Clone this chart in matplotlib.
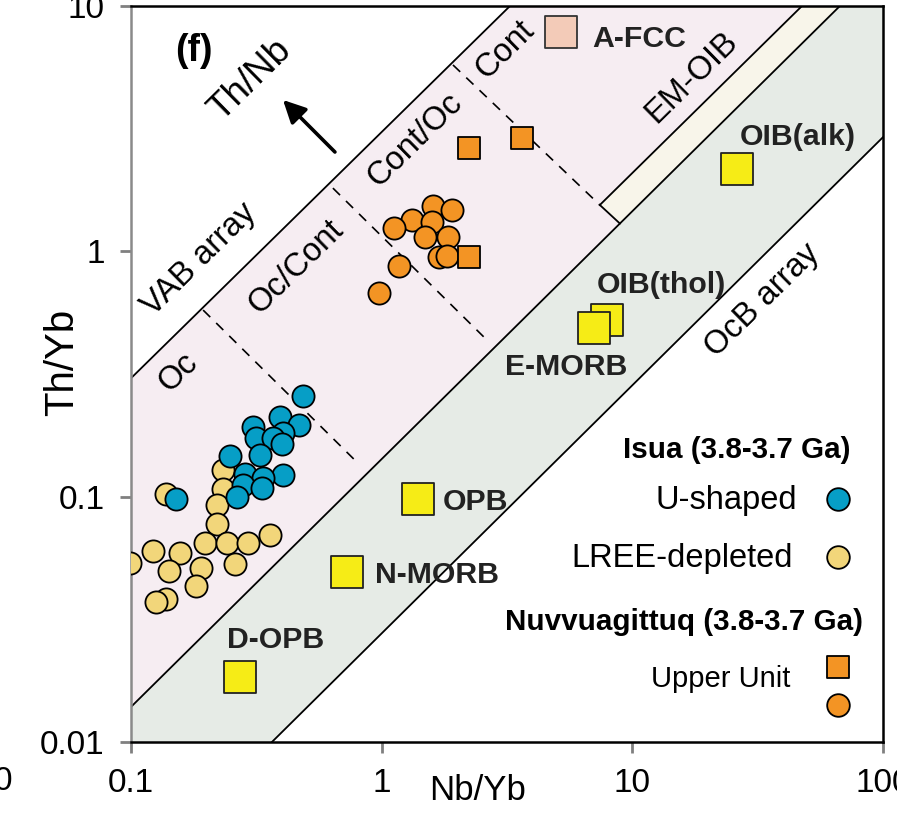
import numpy as np
import matplotlib
matplotlib.use('Agg')
import matplotlib.pyplot as plt

plt.rcParams['font.family'] = ['Liberation Sans', 'DejaVu Sans']

# Isua (3.8-3.7 Ga), U-shaped REE pattern
u_nb = [0.484, 0.393, 0.469, 0.307, 0.405, 0.315, 0.367, 0.399, 0.327,
        0.248, 0.405, 0.285, 0.337, 0.279, 0.332, 0.264, 0.151]
u_th = [0.257, 0.212, 0.196, 0.193, 0.182, 0.173, 0.173, 0.164, 0.148,
        0.146, 0.123, 0.124, 0.119, 0.1115, 0.108, 0.0999, 0.0975]

# Isua, LREE-depleted
l_nb = [0.233, 0.232, 0.221, 0.221, 0.138, 0.197, 0.241, 0.294, 0.358,
        0.122, 0.157, 0.099, 0.142, 0.190, 0.260, 0.182, 0.138, 0.126]
l_th = [0.129, 0.107, 0.0924, 0.0774, 0.1025, 0.0645, 0.0649, 0.0645, 0.0697,
        0.0602, 0.0591, 0.0535, 0.0497, 0.0510, 0.0531, 0.0432, 0.0381, 0.0373]

# Nuvvuagittuq Upper Unit, circles and squares
n_circ_nb = [1.606, 1.902, 1.317, 1.583, 1.120, 1.488, 1.844, 1.698, 1.816, 1.175, 0.978]
n_circ_th = [1.530, 1.474, 1.341, 1.320, 1.241, 1.147, 1.141, 0.951, 0.957, 0.871, 0.674]
n_sq_nb = [2.236, 3.617, 2.236]
n_sq_th = [2.630, 2.888, 0.951]

# reference compositions
ref_names = ['OIB(thol)', 'E-MORB', 'OIB(alk)', 'OPB', 'N-MORB', 'D-OPB']
ref_nb = [7.90, 7.03, 26.2, 1.40, 0.725, 0.272]
ref_th = [0.525, 0.486, 2.165, 0.0975, 0.0494, 0.0184]
afcc_nb, afcc_th = 5.18, 7.86

# field boundaries (Nb/Yb, Th/Yb)
vab_top = ([0.1, 3.25], [0.304, 10])
array_top = ([0.1, 67.3], [0.0139, 10])
emoib_top = ([7.42, 47.5], [1.545, 10])
array_bot = ([0.365, 100], [0.01, 2.92])
emoib_cut_x = 8.92
dividers = [([0.194, 0.804], [0.576, 0.137]),
            ([0.639, 2.63], [1.81, 0.435]),
            ([1.925, 7.42], [5.75, 1.545])]


def on_line(line, x):
    lx, ly = np.log10(line[0]), np.log10(line[1])
    return 10 ** np.interp(np.log10(x), lx, ly)


cut_y = on_line(array_top, emoib_cut_x)

fig = plt.figure(figsize=(8.97, 8.18), dpi=100)
ax = fig.add_axes([131 / 897, 76 / 818, 752 / 897, 736 / 818])
ax.set_xscale('log')
ax.set_yscale('log')
ax.set_xlim(0.1, 100)
ax.set_ylim(0.01, 10)

pink = '#f6edf2'
green = '#e6ebe6'
cream = '#f8f5ea'

# VAB / continental arc field
ax.fill([0.1, vab_top[0][1], emoib_top[0][1], emoib_top[0][0], emoib_cut_x, 0.1],
        [vab_top[1][0], 10, 10, emoib_top[1][0], cut_y, array_top[1][0]],
        color=pink, lw=0, zorder=0)
# EM-OIB strip
ax.fill([emoib_top[0][0], emoib_top[0][1], array_top[0][1], emoib_cut_x],
        [emoib_top[1][0], 10, 10, cut_y], color=cream, lw=0, zorder=0)
# MORB-OIB array
ax.fill([0.1, array_top[0][1], 100, 100, array_bot[0][0], 0.1],
        [array_top[1][0], 10, 10, array_bot[1][1], 0.01, 0.01],
        color=green, lw=0, zorder=0)

for line in (vab_top, array_top, emoib_top, array_bot):
    ax.plot(line[0], line[1], color='black', lw=1.3, zorder=1)
ax.plot([emoib_top[0][0], emoib_cut_x], [emoib_top[1][0], cut_y],
        color='black', lw=1.3, zorder=1)
for dx, dy in dividers:
    ax.plot(dx, dy, color='black', lw=1.2, ls=(0, (6, 5)), zorder=1)

rot = 44.5
field_kw = dict(rotation=rot, rotation_mode='anchor', ha='center', va='center',
                fontsize=23.5, color='black', zorder=2)
ax.text(0.187, 0.922, 'VAB array', **field_kw)
ax.text(0.154, 0.322, 'Oc', **field_kw)
ax.text(0.455, 0.863, 'Oc/Cont', **field_kw)
ax.text(1.358, 2.842, 'Cont/Oc', **field_kw)
ax.text(3.10, 6.62, 'Cont', **field_kw)
ax.text(17.3, 5.13, 'EM-OIB', **field_kw)
ax.text(33.2, 0.633, 'OcB array', **field_kw)
ax.text(0.298, 4.99, 'Th/Nb', **dict(field_kw, fontsize=26.5))
ax.annotate('', xy=(0.404, 4.14), xytext=(0.651, 2.54),
            arrowprops=dict(arrowstyle='-|>', lw=2.6, color='black',
                            mutation_scale=34, shrinkA=0, shrinkB=0))
ax.text(0.084, 0.939, '(f)', transform=ax.transAxes, fontsize=27,
        fontweight='bold', ha='center', va='center')

yellow_sq = '#f6ec16'
ax.scatter(ref_nb, ref_th, s=545, marker='s', c=yellow_sq, edgecolors='#222222',
           linewidths=1.3, zorder=3)
ax.scatter([afcc_nb], [afcc_th], s=553, marker='s', c='#f3cbb8', edgecolors='#333333',
           linewidths=1.3, zorder=3)

lab_kw = dict(fontsize=21.8, fontweight='bold', color='#222222', ha='left',
              va='baseline', zorder=4)
ax.text(6.90, 6.81, 'A-FCC', **lab_kw)
ax.text(26.9, 2.71, 'OIB(alk)', **lab_kw)
ax.text(7.22, 0.676, 'OIB(thol)', **lab_kw)
ax.text(3.10, 0.313, 'E-MORB', **lab_kw)
ax.text(1.756, 0.0882, 'OPB', **lab_kw)
ax.text(0.940, 0.0444, 'N-MORB', **lab_kw)
ax.text(0.2415, 0.0241, 'D-OPB', **lab_kw)

blue = '#069ec6'
sand = '#f2d67a'
orange = '#f39424'
pt_kw = dict(s=255, edgecolors='black', linewidths=1.3, zorder=5)
ax.scatter(l_nb, l_th, c=sand, **pt_kw)
ax.scatter(u_nb, u_th, c=blue, **pt_kw)
ax.scatter(n_circ_nb, n_circ_th, c=orange, **pt_kw)
ax.scatter(n_sq_nb, n_sq_th, c=orange, marker='s', **pt_kw)

# legend block
def ax_xy(px, py):
    return (px - 131) / 752, (742 - py) / 736


leg_bold = dict(transform=ax.transAxes, fontsize=21.3, fontweight='bold',
                ha='right', va='baseline', color='black')
leg_reg = dict(transform=ax.transAxes, fontsize=23.5, ha='right', va='baseline',
               color='black')
ax.text(*ax_xy(850, 458), 'Isua (3.8-3.7 Ga)', **leg_bold)
ax.text(*ax_xy(797, 509), 'U-shaped', **leg_reg)
ax.text(*ax_xy(793, 567), 'LREE-depleted', **leg_reg)
ax.text(*ax_xy(863, 630), 'Nuvvuagittuq (3.8-3.7 Ga)', **leg_bold)
ax.text(*ax_xy(790, 687), 'Upper Unit', transform=ax.transAxes, fontsize=21,
        ha='right', va='baseline', color='black')
leg_pts = [(499, blue, 'o'), (557, sand, 'o'), (667, orange, 's'), (705, orange, 'o')]
for py, col, mk in leg_pts:
    ax.scatter(*ax_xy(838, py), s=265, c=col, marker=mk, edgecolors='black',
               linewidths=1.3, transform=ax.transAxes, zorder=5, clip_on=False)

ax.set_xticks([0.1, 1, 10, 100])
ax.set_xticklabels(['0.1', '1', '10', '100'])
ax.set_yticks([0.01, 0.1, 1, 10])
ax.set_yticklabels(['0.01', '0.1', '1', '10'])
ax.minorticks_off()
ax.tick_params(direction='out', length=8, width=2, color='#808080',
               pad=11, labelsize=24)

for side in ('top', 'right', 'bottom'):
    ax.spines[side].set_color('black')
    ax.spines[side].set_linewidth(1.8)
ax.spines['left'].set_color('#8a8a8a')
ax.spines['left'].set_linewidth(1.8)

# axis titles
ax.text(*ax_xy(478, 791), 'Nb/Yb', transform=ax.transAxes, fontsize=25,
        ha='center', va='center')
ax.text(*ax_xy(62, 362), 'Th/Yb', transform=ax.transAxes, fontsize=29,
        rotation=90, ha='center', va='center')

# neighbouring panel's tick label, cut at the left edge
fig.text(13 / 897, 1 - 782 / 818, '100', fontsize=24, ha='right', va='center')

fig.savefig('out.png', dpi=100)
